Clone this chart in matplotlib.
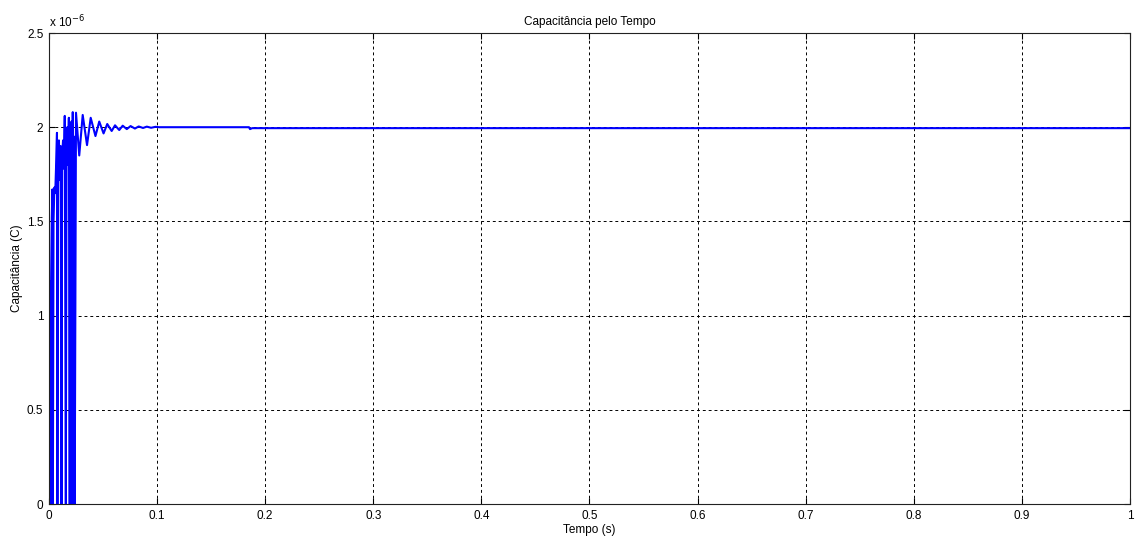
import matplotlib
matplotlib.use('Agg')
import matplotlib.pyplot as plt

plt.rcParams['font.family'] = ['Liberation Sans', 'DejaVu Sans']

# Tempo (s) e capacitância (x 1e-6 F)
tempo = [0.0000, 0.0004, 0.0008, 0.0012, 0.0016, 0.0020, 0.0026, 0.0032, 0.0036,
         0.0042, 0.0050, 0.0058, 0.0066, 0.0074, 0.0078, 0.0084, 0.0092, 0.0100,
         0.0108, 0.0116, 0.0122, 0.0130, 0.0138, 0.0146, 0.0156, 0.0162, 0.0170,
         0.0176, 0.0184, 0.0192, 0.0196, 0.0202, 0.0208, 0.0214, 0.0220, 0.0226,
         0.0232, 0.0238, 0.0250, 0.0280, 0.0312, 0.0352, 0.0386, 0.0430, 0.0465,
         0.0505, 0.0539, 0.0580, 0.0611, 0.0650, 0.0682, 0.0720, 0.0755, 0.0795,
         0.0830, 0.0870, 0.0905, 0.0945, 0.0985, 0.1020, 0.1850, 0.1860, 0.1880,
         1.0000]
capacitancia = [0.00, 0.60, 0.83, 1.18, 0.00, 1.20, 1.52, 1.67, 0.00,
                1.50, 1.68, 1.65, 1.80, 1.97, 0.00, 1.70, 1.93, 1.72,
                1.90, 0.00, 1.85, 1.93, 1.78, 2.06, 0.00, 1.82, 2.00,
                1.80, 2.05, 0.00, 1.90, 0.00, 2.03, 0.00, 2.08, 0.00,
                1.95, 0.00, 2.077, 1.85, 2.065, 1.905, 2.05, 1.953, 2.03,
                1.967, 2.017, 1.98, 2.01, 1.985, 2.008, 1.99, 2.006, 1.993,
                2.004, 1.996, 2.003, 1.997, 2.002, 2.000, 2.000, 1.990, 1.995,
                1.995]

x_ticks = [0, 0.1, 0.2, 0.3, 0.4, 0.5, 0.6, 0.7, 0.8, 0.9, 1]
x_labels = ['0', '0.1', '0.2', '0.3', '0.4', '0.5', '0.6', '0.7', '0.8', '0.9', '1']
y_ticks = [0, 0.5, 1, 1.5, 2, 2.5]
y_labels = ['0', '0.5', '1', '1.5', '2', '2.5']

fig = plt.figure(figsize=(11.39, 5.42), dpi=100)
ax = fig.add_axes([0.043, 0.0701, 0.949, 0.869])

ax.plot(tempo, capacitancia, color=(0, 0, 1), linewidth=1.5)

ax.set_xlim(0, 1)
ax.set_ylim(0, 2.5)
ax.set_xticks(x_ticks)
ax.set_xticklabels(x_labels)
ax.set_yticks(y_ticks)
ax.set_yticklabels(y_labels)
ax.tick_params(direction='in', top=True, right=True, labelsize=8.5, length=4, width=0.8, pad=4)
ax.grid(True, color='black', linestyle=(0, (3, 3)), linewidth=0.7)
ax.set_axisbelow(True)
for s in ax.spines.values():
    s.set_linewidth(0.8)
    s.set_color('#222222')

ax.set_title('Capacitância pelo Tempo', fontsize=8.5, pad=6)
ax.set_xlabel('Tempo (s)', fontsize=8.5, labelpad=2)
ax.set_ylabel('Capacitância (C)', fontsize=8.5, labelpad=3)
ax.text(0.0, 1.005, r'x 10$^{-6}$', transform=ax.transAxes, fontsize=8.5, va='bottom', ha='left')

fig.savefig('out.png', dpi=100)
